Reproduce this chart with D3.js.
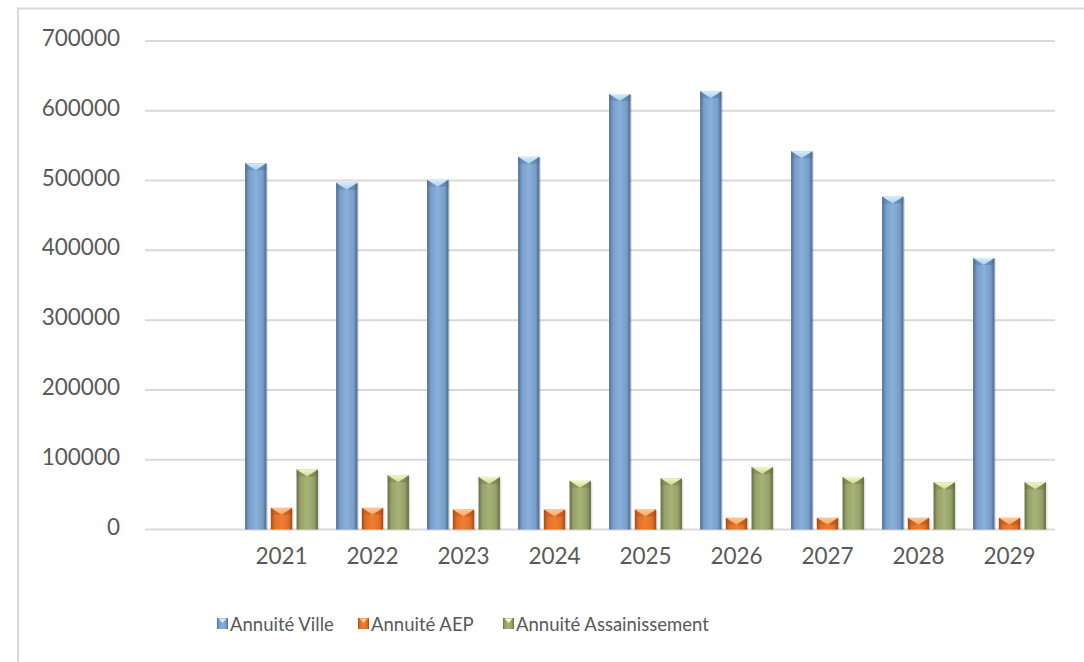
<!DOCTYPE html>
<html>
<head>
<meta charset="utf-8">
<script src="https://cdn.jsdelivr.net/npm/d3@7"></script>
<style>
  html, body { margin: 0; padding: 0; background: #ffffff; }
  svg { display: block; }
</style>
</head>
<body>
<svg id="chart" width="1084" height="662"></svg>
<script>
// ---- data ----
const categories = ["", "2021", "2022", "2023", "2024", "2025", "2026", "2027", "2028", "2029"];
const seriesNames = ["Annuité Ville", "Annuité AEP", "Annuité Assainissement"];
const villeValues = [null, 525000, 497000, 501000, 534000, 624000, 628000, 542000, 477000, 389000];
const aepValues   = [null, 31000, 31000, 28600, 28600, 28600, 16700, 16700, 16700, 16700];
const assValues   = [null, 86000, 77700, 75400, 69700, 73400, 89700, 75400, 67700, 67700];
const yTicks = [0, 100000, 200000, 300000, 400000, 500000, 600000, 700000];

const seriesValues = [villeValues, aepValues, assValues];
const palette = [
  { edgeL: "#4b6d95", mid: "#88b0da", edgeR: "#4a6990", top: "#d6eefc", topDark: "#a6cdee" },
  { edgeL: "#a84a14", mid: "#f07e30", edgeR: "#a64913", top: "#fdc996", topDark: "#f7a45f" },
  { edgeL: "#666e42", mid: "#a7b277", edgeR: "#636b40", top: "#f2f8c8", topDark: "#cbd497" }
];

const svg = d3.select("#chart");
const W = 1084, H = 662;
const plot = { left: 145, right: 1055, top: 41, bottom: 529.5 };

// frame
svg.append("line").attr("x1", 17).attr("x2", W).attr("y1", 8.5).attr("y2", 8.5)
  .attr("stroke", "#d9d9d9").attr("stroke-width", 2);
svg.append("line").attr("x1", 18).attr("x2", 18).attr("y1", 8).attr("y2", H)
  .attr("stroke", "#d9d9d9").attr("stroke-width", 2);

const x0 = d3.scaleBand().domain(categories).range([plot.left, plot.right])
  .paddingInner(0.2).paddingOuter(0.1);
const x1 = d3.scaleBand().domain(seriesNames).range([0, x0.bandwidth()]).paddingInner(0.17);
const y = d3.scaleLinear().domain([0, 700000]).range([plot.bottom, plot.top]);

// gradients
const defs = svg.append("defs");
palette.forEach((p, i) => {
  const g = defs.append("linearGradient").attr("id", "grad" + i)
    .attr("x1", "0%").attr("x2", "100%").attr("y1", "0%").attr("y2", "0%");
  g.append("stop").attr("offset", "0%").attr("stop-color", p.edgeL);
  g.append("stop").attr("offset", "18%").attr("stop-color", d3.interpolateRgb(p.edgeL, p.mid)(0.75));
  g.append("stop").attr("offset", "50%").attr("stop-color", p.mid);
  g.append("stop").attr("offset", "82%").attr("stop-color", d3.interpolateRgb(p.edgeR, p.mid)(0.75));
  g.append("stop").attr("offset", "100%").attr("stop-color", p.edgeR);
  const t = defs.append("linearGradient").attr("id", "top" + i)
    .attr("x1", "0%").attr("x2", "0%").attr("y1", "0%").attr("y2", "100%");
  t.append("stop").attr("offset", "0%").attr("stop-color", p.top);
  t.append("stop").attr("offset", "100%").attr("stop-color", p.topDark);
});

// gridlines
svg.append("g").selectAll("line").data(yTicks).join("line")
  .attr("x1", plot.left).attr("x2", plot.right)
  .attr("y1", d => y(d)).attr("y2", d => y(d))
  .attr("stroke", "#d9d9d9").attr("stroke-width", 2);

// y labels
svg.append("g").selectAll("text").data(yTicks).join("text")
  .attr("x", 120).attr("y", d => y(d) + 5)
  .attr("text-anchor", "end")
  .attr("font-family", "Lato, 'Open Sans', sans-serif")
  .attr("font-size", 22.5).attr("fill", "#595959")
  .text(d => d3.format("d")(d));

// x labels
svg.append("g").selectAll("text").data(categories).join("text")
  .attr("x", d => x0(d) + x0.bandwidth() / 2).attr("y", 563.5)
  .attr("text-anchor", "middle")
  .attr("font-family", "Lato, 'Open Sans', sans-serif")
  .attr("font-size", 22.5).attr("fill", "#595959")
  .text(d => d);

// bars
const bevel = 7;
const groups = svg.append("g").selectAll("g").data(categories).join("g")
  .attr("transform", d => `translate(${x0(d)},0)`);

seriesNames.forEach((name, si) => {
  const vals = seriesValues[si];
  const bw = x1.bandwidth();
  const bx = x1(name);
  groups.each(function(cat, ci) {
    const v = vals[ci];
    if (v == null) return;
    const g = d3.select(this);
    const top = y(v), h = y(0) - y(v);
    g.append("rect").attr("x", bx + 1.5).attr("y", top + 1.5).attr("width", bw).attr("height", h - 1.5)
      .attr("fill", "#000").attr("opacity", 0.12);
    g.append("rect").attr("x", bx).attr("y", top).attr("width", bw).attr("height", h)
      .attr("fill", `url(#grad${si})`);
    const bv = Math.min(bevel, h * 0.6);
    g.append("path")
      .attr("d", `M${bx},${top}L${bx + bw},${top}L${bx + bw / 2},${top + bv}Z`)
      .attr("fill", `url(#top${si})`);
    g.append("path")
      .attr("d", `M${bx},${top}L${bx + bw / 2},${top + bv}L${bx},${top + bv}Z`)
      .attr("fill", palette[si].edgeL).attr("opacity", 0.3);
    g.append("path")
      .attr("d", `M${bx + bw},${top}L${bx + bw / 2},${top + bv}L${bx + bw},${top + bv}Z`)
      .attr("fill", palette[si].edgeR).attr("opacity", 0.4);
  });
});

// legend
const legendX = [217, 358, 503];
const legend = svg.append("g").selectAll("g").data(seriesNames).join("g")
  .attr("transform", (d, i) => `translate(${legendX[i]},618)`);
legend.append("rect").attr("width", 11).attr("height", 11)
  .attr("fill", (d, i) => `url(#grad${i})`);
legend.append("path").attr("d", "M1.5,0.5L9.5,0.5L5.5,5Z")
  .attr("fill", (d, i) => palette[i].top);
legend.append("text").attr("x", 13).attr("y", 13)
  .attr("font-family", "Lato, 'Open Sans', sans-serif")
  .attr("font-size", 18.5).attr("fill", "#595959")
  .text(d => d);
</script>
</body>
</html>
